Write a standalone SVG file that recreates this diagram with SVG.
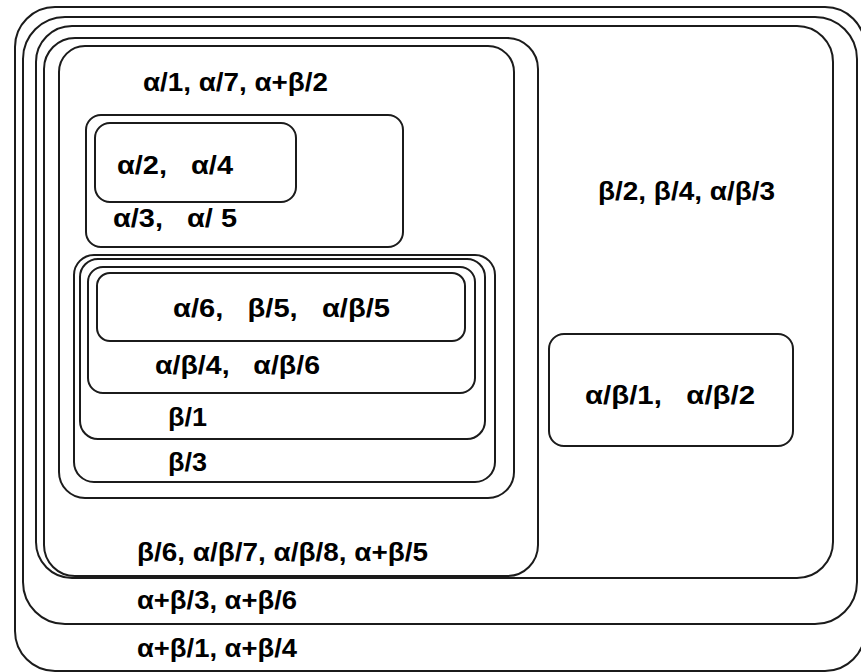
<svg xmlns="http://www.w3.org/2000/svg" width="861" height="672" viewBox="0 0 861 672">
  <style>
    .box { fill: none; stroke: #1b1b1b; stroke-width: 2; }
    .lbl { font-family: "Liberation Sans", Arial, sans-serif; font-weight: bold; font-size: 26px; fill: #000; white-space: pre; }
  </style>
  <rect width="861" height="672" fill="#fff"/>

  <!-- outer nested sets -->
  <g id="set-a">
    <rect class="box" x="15" y="7" width="850" height="664" rx="40"/>
    <text class="lbl" x="137" y="657" textLength="160" lengthAdjust="spacingAndGlyphs">α+β/1, α+β/4</text>
  </g>
  <g id="set-b">
    <rect class="box" x="23" y="17" width="834" height="607" rx="42"/>
    <text class="lbl" x="137" y="609" textLength="160" lengthAdjust="spacingAndGlyphs">α+β/3, α+β/6</text>
  </g>
  <g id="set-c">
    <rect class="box" x="36" y="26" width="797" height="552" rx="36"/>
    <text class="lbl" x="598" y="200" textLength="177" lengthAdjust="spacingAndGlyphs">β/2, β/4, α/β/3</text>
  </g>
  <g id="set-d">
    <rect class="box" x="44" y="38" width="494" height="538" rx="31"/>
    <text class="lbl" x="137" y="561" textLength="291" lengthAdjust="spacingAndGlyphs">β/6, α/β/7, α/β/8, α+β/5</text>
  </g>
  <g id="set-e">
    <rect class="box" x="59" y="46" width="455" height="452" rx="26"/>
    <text class="lbl" x="143" y="91" textLength="185" lengthAdjust="spacingAndGlyphs">α/1, α/7, α+β/2</text>
  </g>

  <!-- upper-left pair -->
  <g id="set-a3">
    <rect class="box" x="86" y="115" width="317" height="132" rx="15"/>
    <text class="lbl" x="113" y="227" textLength="124" lengthAdjust="spacingAndGlyphs">α/3,   α/ 5</text>
  </g>
  <g id="set-a2">
    <rect class="box" x="95" y="123" width="201" height="79" rx="15"/>
    <text class="lbl" x="117" y="174" textLength="116" lengthAdjust="spacingAndGlyphs">α/2,   α/4</text>
  </g>

  <!-- lower-left stack -->
  <g id="set-b3">
    <rect class="box" x="74" y="255" width="421" height="227" rx="20"/>
    <text class="lbl" x="168" y="471" textLength="39" lengthAdjust="spacingAndGlyphs">β/3</text>
  </g>
  <g id="set-b1">
    <rect class="box" x="80" y="259" width="405" height="180" rx="18"/>
    <text class="lbl" x="168" y="426" textLength="39" lengthAdjust="spacingAndGlyphs">β/1</text>
  </g>
  <g id="set-ab4">
    <rect class="box" x="88" y="267" width="387" height="126" rx="15"/>
    <text class="lbl" x="155" y="374" textLength="165" lengthAdjust="spacingAndGlyphs">α/β/4,   α/β/6</text>
  </g>
  <g id="set-a6">
    <rect class="box" x="97" y="273" width="368" height="68" rx="13"/>
    <text class="lbl" x="173" y="317" textLength="217" lengthAdjust="spacingAndGlyphs">α/6,   β/5,   α/β/5</text>
  </g>

  <!-- right-hand set -->
  <g id="set-ab1">
    <rect class="box" x="549" y="334" width="244" height="112" rx="15"/>
    <text class="lbl" x="585" y="404" textLength="170" lengthAdjust="spacingAndGlyphs">α/β/1,   α/β/2</text>
  </g>

  <g id="connectors"/>
</svg>
